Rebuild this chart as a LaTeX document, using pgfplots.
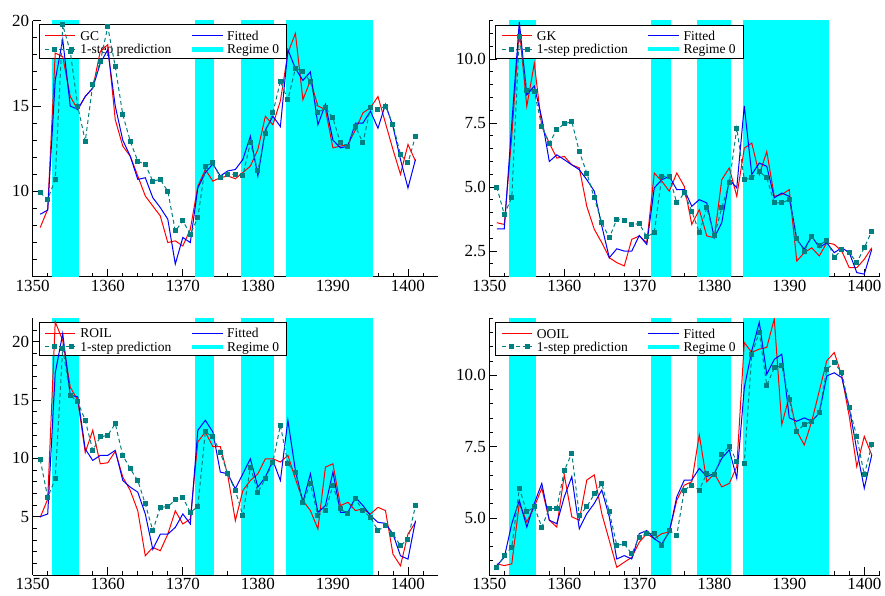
\documentclass[border=0pt]{standalone}
\usepackage{fontspec}
\setmainfont{Liberation Serif}
\usepackage{pgfplots}
\usepackage{pgfplotstable}
\pgfplotsset{compat=1.18}
\definecolor{act}{RGB}{255,0,0}
\definecolor{fit}{RGB}{0,0,255}
\definecolor{pred}{RGB}{0,128,128}
\definecolor{reg}{RGB}{0,255,255}

\pgfplotstableread{
year act fit pred
1351 7.88 8.66 9.92
1352 8.95 8.90 9.53
1353 18.1 16.5 10.7
1354 17.9 18.9 19.75
1355 15.56 15.0 18.2
1356 14.79 14.8 15.0
1357 15.56 15.56 12.94
1358 16.05 16.05 16.25
1359 18.2 17.5 17.6
1360 18.6 18.3 19.65
1361 14.2 15.0 17.3
1362 12.65 13.0 14.5
1363 12.06 12.06 12.94
1364 10.9 10.7 11.77
1365 9.73 10.8 11.58
1366 9.14 9.63 10.6
1367 8.56 9.05 10.7
1368 7.0 8.37 10.0
1369 7.1 5.74 7.68
1370 6.8 7.3 8.27
1371 7.78 7.0 7.49
1372 10.3 10.2 8.46
1373 11.28 11.1 11.48
1374 10.6 11.6 11.67
1375 10.8 10.9 10.8
1376 10.9 11.2 11.0
1377 10.74 11.28 11.0
1378 11.1 11.87 10.93
1379 11.48 13.23 12.84
1380 12.45 10.9 11.2
1381 14.4 13.6 13.4
1382 13.9 14.4 14.6
1383 15.3 13.8 16.44
1384 18.1 18.3 15.37
1385 19.26 17.2 17.2
1386 15.37 16.5 17.0
1387 16.5 17.0 16.44
1388 15.0 13.9 14.6
1389 14.8 15.1 14.9
1390 12.55 13.0 14.3
1391 12.65 12.55 12.84
1392 12.75 12.65 12.65
1393 13.6 14.0 13.8
1394 14.6 14.0 12.84
1395 14.9 14.7 14.9
1396 15.56 13.7 14.8
1397 14.0 15.1 15.0
1398 12.45 13.8 13.9
1399 11.0 11.87 12.16
1400 12.75 10.2 11.67
1401 11.77 11.87 13.23
}\gc

\pgfplotstableread{
year act fit pred
1351 3.61 3.37 5.0
1352 3.54 3.37 3.93
1353 7.0 7.5 4.6
1354 11.19 11.45 10.87
1355 8.15 8.6 8.79
1356 9.83 8.95 8.73
1357 7.37 7.69 7.37
1358 6.72 6.0 6.72
1359 6.13 6.26 7.24
1360 6.2 6.07 7.47
1361 5.87 5.87 7.56
1362 5.75 5.68 6.39
1363 4.25 5.29 5.55
1364 3.35 4.84 4.58
1365 2.83 3.48 3.61
1366 2.24 2.24 3.02
1367 2.05 2.59 3.74
1368 1.92 2.5 3.7
1369 2.96 2.5 3.54
1370 3.09 3.11 3.57
1371 2.83 2.76 3.06
1372 5.55 4.97 3.22
1373 5.23 5.29 5.42
1374 4.84 5.42 5.42
1375 5.55 4.9 4.38
1376 5.03 4.9 4.77
1377 3.54 4.25 4.06
1378 4.12 4.51 3.22
1379 3.09 4.38 4.19
1380 3.02 3.02 3.09
1381 5.29 3.61 4.19
1382 5.75 5.29 5.16
1383 4.64 4.97 7.3
1384 6.52 8.17 5.29
1385 6.72 5.49 5.36
1386 5.49 5.94 5.62
1387 6.39 5.81 5.36
1388 4.64 4.58 4.38
1389 4.71 4.77 4.38
1390 4.9 4.64 4.51
1391 2.11 2.96 2.98
1392 2.44 2.57 2.5
1393 2.63 3.09 3.06
1394 2.31 2.63 2.72
1395 2.83 2.83 2.93
1396 2.76 2.44 2.24
1397 2.5 2.63 2.57
1398 1.85 2.44 2.44
1399 1.85 1.66 2.05
1400 2.18 1.6 2.63
1401 2.63 2.57 3.28
}\gk

\pgfplotstableread{
year act fit pred
1351 4.94 5.0 9.88
1352 6.5 5.23 6.66
1353 21.7 17.3 8.24
1354 20.1 20.7 19.43
1355 16.1 15.4 15.4
1356 14.98 15.27 14.84
1357 10.5 10.8 13.26
1358 12.4 9.82 10.68
1359 9.53 10.25 11.83
1360 9.62 10.25 11.97
1361 10.6 10.68 12.97
1362 8.4 8.1 10.25
1363 7.24 7.53 9.1
1364 5.5 7.1 8.1
1365 1.65 5.23 6.09
1366 2.36 2.2 3.8
1367 2.08 3.5 5.8
1368 3.5 3.5 5.86
1369 5.5 4.08 6.43
1370 4.37 5.23 6.66
1371 4.8 4.37 5.37
1372 11.4 12.4 5.86
1373 12.26 13.26 12.26
1374 11.0 12.26 11.83
1375 11.0 8.82 10.5
1376 8.5 8.67 8.67
1377 4.66 7.38 7.24
1378 7.24 8.67 5.09
1379 8.1 9.96 9.25
1380 8.67 7.53 7.1
1381 9.96 8.39 8.24
1382 9.96 9.82 9.68
1383 9.68 8.1 12.83
1384 10.25 13.26 9.53
1385 8.24 8.96 8.82
1386 6.38 6.23 6.23
1387 5.52 8.67 7.81
1388 3.94 5.37 5.09
1389 9.25 5.95 5.52
1390 9.53 8.82 7.67
1391 5.95 5.37 5.66
1392 6.23 5.37 5.23
1393 5.52 6.66 6.52
1394 5.66 5.95 5.52
1395 5.23 5.09 4.94
1396 5.8 4.51 3.8
1397 5.52 4.43 4.23
1398 1.79 3.51 3.51
1399 0.79 1.65 2.51
1400 3.51 1.36 3.08
1401 4.51 4.66 5.95
}\roil

\pgfplotstableread{
year act fit pred
1351 3.39 3.33 3.25
1352 3.33 3.62 3.68
1353 3.39 4.8 3.98
1354 5.51 5.62 6.04
1355 4.86 4.68 5.21
1356 5.39 5.51 5.39
1357 6.04 6.21 4.68
1358 4.92 4.92 5.33
1359 4.68 4.8 5.33
1360 6.51 5.74 6.66
1361 5.04 6.45 7.27
1362 4.92 4.62 5.09
1363 6.33 5.15 5.39
1364 6.51 5.51 5.84
1365 5.15 5.98 6.21
1366 4.21 5.04 5.21
1367 3.27 3.56 4.04
1368 3.45 3.68 4.09
1369 3.62 3.56 3.74
1370 4.15 4.45 4.33
1371 4.45 4.56 4.45
1372 4.27 4.27 4.47
1373 4.45 4.09 4.04
1374 4.51 4.51 4.56
1375 5.62 5.74 4.39
1376 6.15 6.33 5.98
1377 6.27 6.33 6.15
1378 7.92 6.74 5.98
1379 6.27 6.45 6.56
1380 6.56 6.56 6.51
1381 6.09 7.09 7.21
1382 6.21 7.39 7.51
1383 6.8 6.39 6.98
1384 11.15 9.56 6.92
1385 10.8 10.86 10.74
1386 10.92 11.86 11.51
1387 10.98 10.04 9.65
1388 11.98 10.56 10.27
1389 8.27 10.74 10.33
1390 9.27 8.51 9.15
1391 8.04 8.39 8.04
1392 7.56 8.51 8.27
1393 8.39 8.39 8.39
1394 9.45 8.68 8.68
1395 10.51 9.98 10.21
1396 10.8 10.09 10.45
1397 9.98 9.92 10.09
1398 8.56 8.86 8.86
1399 6.8 7.39 7.86
1400 7.86 6.04 6.51
1401 7.21 7.21 7.56
}\ooil

\tikzset{lgtext/.style={anchor=base west, yshift=-4.6pt, inner sep=0pt, font=\fontsize{13.5}{15}\selectfont}}

\pgfplotsset{
  panel/.style={
    scale only axis,
    axis x line*=bottom, axis y line*=left,
    xtick={1350,1360,...,1400},
    tick align=inside,
    major tick length=8pt, minor tick length=4pt,
    tick style={black, line width=0.8pt},
    axis line style={black, line width=0.8pt},
    ticklabel style={font=\fontsize{17}{20}\selectfont},
    /pgf/number format/assume math mode=true,
    /pgf/number format/1000 sep={},
    clip=true,
  },
  lpanel/.style={panel, width=405.3pt, xmin=1350, xmax=1404, minor xtick={1352,1354,...,1402}},
  rpanel/.style={panel, width=390.7pt, xmin=1350, xmax=1402.1, minor xtick={1352,1354,...,1402},
    yticklabel style={/pgf/number format/.cd, fixed, fixed zerofill, precision=1}},
}

% regime 0 bands, #1,#2: y range
\newcommand{\regimes}[2]{%
  \addplot[fill=reg, draw=none, forget plot] coordinates {(1352.6,#1) (1352.6,#2) (1356.2,#2) (1356.2,#1)} -- cycle;
  \addplot[fill=reg, draw=none, forget plot] coordinates {(1371.6,#1) (1371.6,#2) (1374.2,#2) (1374.2,#1)} -- cycle;
  \addplot[fill=reg, draw=none, forget plot] coordinates {(1377.7,#1) (1377.7,#2) (1382.2,#2) (1382.2,#1)} -- cycle;
  \addplot[fill=reg, draw=none, forget plot] coordinates {(1383.8,#1) (1383.8,#2) (1395.3,#2) (1395.3,#1)} -- cycle;
}
% legend: #1 top, #2 bottom, #3 row 1, #4 row 2, #5 series name
\newcommand{\legendbox}[5]{%
  \addplot[fill=white, draw=black, line width=1pt, forget plot] coordinates {(1350.88,#2) (1350.88,#1) (1383.87,#1) (1383.87,#2)} -- cycle;
  \addplot[draw=act, line width=1.2pt, forget plot] coordinates {(1351.64,#3) (1355.64,#3)};
  \addplot[draw=fit, line width=1.2pt, forget plot] coordinates {(1371.2,#3) (1375.33,#3)};
  \addplot[draw=pred, line width=1pt, dash pattern=on 4pt off 3pt, mark=square*, mark size=2pt, mark options={solid, fill=pred, draw=pred}, mark indices={2,3}, forget plot] coordinates {(1351.64,#4) (1352.97,#4) (1355.11,#4) (1355.64,#4)};
  \addplot[draw=reg, line width=4.5pt, forget plot] coordinates {(1371.2,#4) (1375.33,#4)};
  \node[lgtext] at (axis cs:1356.31,#3) {#5};
  \node[lgtext] at (axis cs:1375.87,#3) {Fitted};
  \node[lgtext] at (axis cs:1356.31,#4) {1-step prediction};
  \node[lgtext] at (axis cs:1375.87,#4) {Regime 0};
}
\newcommand{\series}[1]{%
  \addplot[act, line width=1pt] table[x=year, y=act]{#1};
  \addplot[fit, line width=1pt] table[x=year, y=fit]{#1};
  \addplot[pred, line width=1pt, dash pattern=on 4pt off 3pt, mark=square*, mark size=2pt, mark options={solid}] table[x=year, y=pred]{#1};
}

\begin{document}
\begin{tikzpicture}
\path[use as bounding box] (0,0) rectangle (885pt,596pt);

\begin{axis}[lpanel, at={(32.7pt,319.3pt)}, anchor=south west, height=256pt,
  ymin=5, ymax=20, ytick={10,15,20}, minor ytick={6,...,19}]
\regimes{0}{30}
\legendbox{19.75}{17.80}{19.12}{18.32}{GC}
\series{\gc}
\end{axis}

\begin{axis}[rpanel, at={(489.3pt,319.3pt)}, anchor=south west, height=256pt,
  ymin=1.5, ymax=11.5, ytick={2.5,5,7.5,10}, minor ytick={2,2.5,...,11.5}]
\regimes{0}{30}
\legendbox{11.33}{10.04}{10.92}{10.39}{GK}
\series{\gk}
\end{axis}

\begin{axis}[lpanel, at={(32.7pt,21pt)}, anchor=south west, height=256.7pt,
  ymin=0, ymax=22, ytick={5,10,15,20}, minor ytick={1,...,21}]
\regimes{-5}{30}
\legendbox{21.63}{18.78}{20.71}{19.55}{ROIL}
\series{\roil}
\end{axis}

\begin{axis}[rpanel, at={(489.3pt,21pt)}, anchor=south west, height=256.7pt,
  ymin=3, ymax=12, ytick={5,7.5,10}, minor ytick={3.5,4,...,12}]
\regimes{0}{30}
\legendbox{11.85}{10.68}{11.47}{11.0}{OOIL}
\series{\ooil}
\end{axis}
\end{tikzpicture}
\end{document}
